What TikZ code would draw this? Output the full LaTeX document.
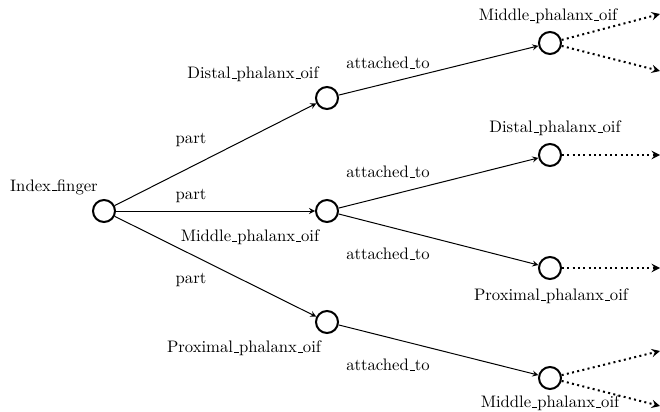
\documentclass[tikz,border=0pt]{standalone}
\usetikzlibrary{arrows, positioning}
\newcommand{\uscore}{\leavevmode\kern.06em\vbox{\hrule width.3em}}

\begin{document}
\begin{tikzpicture}[semithick, x=0.6pt, y=-0.6pt]
    \tikzstyle{bone} = [circle, draw, line width=1.2pt, minimum size=13.2pt, inner sep=0pt]
    \tikzstyle{rel}  = [->, >=stealth, semithick]
    \tikzstyle{more} = [->, >=stealth, line width=1.2pt, dotted]
    \tikzstyle{txt}  = [inner sep=0pt]

    \useasboundingbox (0,0) rectangle (660,411);

    % Bones .........................
    \node[bone] (idx)  at (104,211) {};
    \node[bone] (dpo)  at (327,98)  {};
    \node[bone] (mpo)  at (327,211) {};
    \node[bone] (ppo)  at (327,322) {};
    \node[bone] (mpoA) at (550,43)  {};
    \node[bone] (dpoB) at (550,155) {};
    \node[bone] (ppoB) at (550,268) {};
    \node[bone] (mpoC) at (550,378) {};

    % Names .........................
    \node[txt] (tidx)  at (54,187)  {Index\uscore finger};
    \node[txt] (tdpo)  at (253,74)  {Distal\uscore phalanx\uscore oif};
    \node[txt] (tmpo)  at (250,237) {Middle\uscore phalanx\uscore oif};
    \node[txt] (tppo)  at (244,348) {Proximal\uscore phalanx\uscore oif};
    \node[txt] (tmpoA) at (548,16)  {Middle\uscore phalanx\uscore oif};
    \node[txt] (tdpoB) at (555,128) {Distal\uscore phalanx\uscore oif};
    \node[txt] (tppoB) at (551,296) {Proximal\uscore phalanx\uscore oif};
    \node[txt] (tmpoC) at (550,403) {Middle\uscore phalanx\uscore oif};

    % Relations .........................
    \draw[rel] (idx) -- (dpo);
    \draw[rel] (idx) -- (mpo);
    \draw[rel] (idx) -- (ppo);
    \draw[rel] (dpo) -- (mpoA);
    \draw[rel] (mpo) -- (dpoB);
    \draw[rel] (mpo) -- (ppoB);
    \draw[rel] (ppo) -- (mpoC);

    \node[txt] (p1) at (191,140) {part};
    \node[txt] (p2) at (191,196) {part};
    \node[txt] (p3) at (191,280) {part};
    \node[txt] (a1) at (388,63)  {attached\uscore to};
    \node[txt] (a2) at (388,172) {attached\uscore to};
    \node[txt] (a3) at (388,254) {attached\uscore to};
    \node[txt] (a4) at (388,365) {attached\uscore to};

    % Continuations .........................
    \coordinate (e1) at (660,14);
    \coordinate (e2) at (660,71);
    \coordinate (e3) at (660,155);
    \coordinate (e4) at (660,268);
    \coordinate (e5) at (660,351);
    \coordinate (e6) at (660,406);

    \draw[more] (mpoA) -- (e1);
    \draw[more] (mpoA) -- (e2);
    \draw[more] (dpoB) -- (e3);
    \draw[more] (ppoB) -- (e4);
    \draw[more] (mpoC) -- (e5);
    \draw[more] (mpoC) -- (e6);

\end{tikzpicture}
\end{document}
